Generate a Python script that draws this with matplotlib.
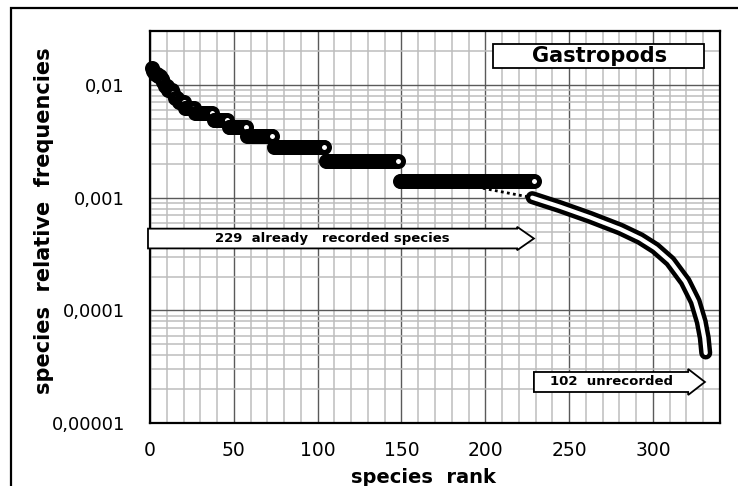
import matplotlib
matplotlib.use('Agg')
import matplotlib.pyplot as plt
import matplotlib.transforms as mtransforms
from matplotlib.patches import Polygon, Rectangle
from matplotlib.ticker import LogLocator, MultipleLocator, FuncFormatter
import numpy as np

# recorded species: abundance level and number of species at that level
ABUND = [20, 19, 18, 17, 16, 15, 14, 13, 12, 11, 10, 9, 8, 7, 6, 5, 4, 3, 2]
N_SPP = [1, 1, 2, 2, 1, 1, 2, 3, 1, 2, 4, 6, 11, 9, 11, 16, 31, 44, 81]
N_TOTAL = 1430

# estimated curve of the unrecorded species
UNREC_RANK = [228, 244.7, 262.6, 280.5, 292.4, 301.4, 310.3, 319.2, 325.2, 328.8, 330.6, 331.5]
UNREC_FREQ = [1.0e-3, 8.3e-4, 6.68e-4, 5.27e-4, 4.34e-4, 3.57e-4, 2.73e-4, 1.81e-4,
              1.20e-4, 7.94e-5, 5.73e-5, 4.2e-5]

# dotted link between the two parts
DOT_RANK = [195, 228]
DOT_FREQ = [1.24e-3, 1.0e-3]

N_RECORDED = 229
N_UNRECORDED = 102

YTICKS = [1e-5, 1e-4, 1e-3, 1e-2]
YTICK_LABELS = ['0,00001', '0,0001', '0,001', '0,01']

freq = np.repeat(np.array(ABUND) / N_TOTAL, N_SPP)
rank = np.arange(1, len(freq) + 1)

fig = plt.figure(figsize=(7.38, 4.86), dpi=100)
ax = fig.add_axes([150 / 738, 1 - 423.3 / 486, 570 / 738, 392.3 / 486])

ax.set_yscale('log')
ax.set_xlim(0, 340)
ax.set_ylim(1e-5, 0.03)

ax.xaxis.set_major_locator(MultipleLocator(50))
ax.xaxis.set_minor_locator(MultipleLocator(10))
ax.yaxis.set_minor_locator(LogLocator(base=10, subs=np.arange(2, 10), numticks=20))
ax.set_yticks(YTICKS)
ax.set_yticklabels(YTICK_LABELS)
ax.yaxis.set_minor_formatter(FuncFormatter(lambda v, p: ''))

ax.grid(which='minor', color='#bdbdbd', lw=1.1, zorder=0)
ax.grid(which='major', color='#5a5a5a', lw=1.0, zorder=0)
ax.set_axisbelow(True)
ax.tick_params(which='both', length=0)
ax.tick_params(axis='y', labelsize=13, pad=18)
ax.tick_params(axis='x', labelsize=13.5, pad=12.5)
for s in ax.spines.values():
    s.set_linewidth(1.6)
    s.set_color('black')

# dotted trend towards the unrecorded part
ax.plot(DOT_RANK, DOT_FREQ, color='black', lw=2, ls=(0, (1, 1.2)), zorder=2)

# recorded species
ax.plot(rank, freq, ls='none', marker='o', ms=7.2, mew=3.6, mfc='white', mec='black',
        zorder=3, clip_on=False)

# unrecorded species: thick black line with white core
ax.plot(UNREC_RANK, UNREC_FREQ, color='black', lw=9.4, solid_capstyle='round',
        solid_joinstyle='round', zorder=4)
ax.plot(UNREC_RANK, UNREC_FREQ, color='white', lw=3.0, solid_capstyle='round',
        solid_joinstyle='round', zorder=5)

# block arrows (x in data, y in axes fraction)
trans = mtransforms.blended_transform_factory(ax.transData, ax.transAxes)


def block_arrow(x0, x1, yc, body, head, head_len, label):
    xb = x1 - head_len
    pts = [(x0, yc - body), (xb, yc - body), (xb, yc - head), (x1, yc),
           (xb, yc + head), (xb, yc + body), (x0, yc + body)]
    ax.add_patch(Polygon(pts, closed=True, transform=trans, fc='white', ec='black',
                         lw=1.3, zorder=6, clip_on=False))
    ax.text((x0 + xb) / 2, yc, label, transform=trans, ha='center', va='center',
            fontsize=9.5, fontweight='bold', zorder=7)


block_arrow(-1.2, N_RECORDED, 0.471, 0.0252, 0.0298, 10,
            f'{N_RECORDED}  already   recorded species')
block_arrow(N_RECORDED, N_RECORDED + N_UNRECORDED, 0.1053, 0.0255, 0.0331, 10,
            f'{N_UNRECORDED}  unrecorded')

# title box
ax.add_patch(Rectangle((0.602, 0.905), 0.370, 0.0626, transform=ax.transAxes,
                       fc='white', ec='black', lw=1.3, zorder=6))
ax.text(0.788, 0.936, 'Gastropods', transform=ax.transAxes, ha='center', va='center',
        fontsize=15, fontweight='bold', zorder=7)

ax.set_xlabel('species  rank', fontsize=14, fontweight='bold', va='baseline')
ax.xaxis.set_label_coords(0.48, -0.152)
ax.set_ylabel('species  relative  frequencies', fontsize=15, fontweight='bold', va='center')
ax.yaxis.set_label_coords(-0.186, 0.516)

# outer frame (cropped at right and bottom)
fig.add_artist(Rectangle((11 / 738, -0.1), 1.2, 1.1 - 8 / 486,
                         transform=fig.transFigure, fill=False, ec='black', lw=1.6))

fig.savefig('out.png', dpi=100)
